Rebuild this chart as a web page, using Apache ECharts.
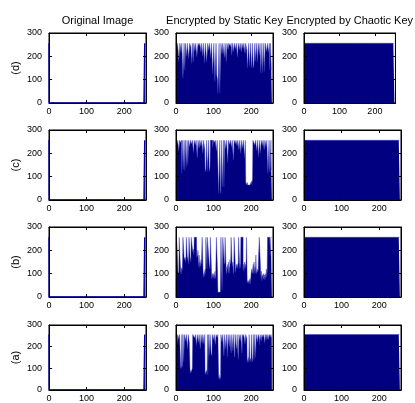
<!DOCTYPE html>
<html><head><meta charset="utf-8">
<script src="https://cdn.jsdelivr.net/npm/echarts@6/dist/echarts.min.js"></script>
<style>html,body{margin:0;padding:0;background:#fff}#c{width:415px;height:403px}</style>
</head><body><div id="c"></div>
<script>
const columnTitles = ['Original Image', 'Encrypted by Static Key', 'Encrypted by Chaotic Key'];
const rowLabels = ['(d)', '(c)', '(b)', '(a)'];
const xTicks = [0, 100, 200];
const yTicks = [0, 100, 200, 300];

// histogram of the original image (bins 0..255)
const origHist = [
256,0,0,0,0,0,0,0,0,0,0,0,0,0,0,0,
0,0,0,0,0,0,0,0,0,0,0,0,0,0,0,0,
0,0,0,0,0,0,0,0,0,0,0,0,0,0,0,0,
0,0,0,0,0,0,0,0,0,0,0,0,0,0,0,0,
0,0,0,0,0,0,0,0,0,0,0,0,0,0,0,0,
0,0,0,0,0,0,0,0,0,0,0,0,0,0,0,0,
0,0,0,0,0,0,0,0,0,0,0,0,0,0,0,0,
0,0,0,0,0,0,0,0,0,0,0,0,0,0,0,0,
0,0,0,0,0,0,0,0,0,0,0,0,0,0,0,0,
0,0,0,0,0,0,0,0,0,0,0,0,0,0,0,0,
0,0,0,0,0,0,0,0,0,0,0,0,0,0,0,0,
0,0,0,0,0,0,0,0,0,0,0,0,0,0,0,0,
0,0,0,0,0,0,0,0,0,0,0,0,0,0,0,0,
0,0,0,0,0,0,0,0,0,0,0,0,0,0,0,0,
0,0,0,0,0,0,0,0,0,0,0,0,0,0,0,0,
0,0,0,0,0,0,0,0,0,0,0,0,0,0,0,256
];

// histograms encrypted by static key
const staticD = [
256,256,256,230,228,256,256,256,178,180,176,256,256,256,215,212,
256,256,256,105,108,104,256,256,140,138,256,256,256,200,198,256,
256,256,190,192,188,256,256,256,240,236,170,172,256,256,175,172,
256,256,256,222,220,256,256,256,198,200,196,256,256,256,244,240,
256,256,256,218,215,256,256,256,200,202,256,256,170,168,163,256,
256,256,175,170,168,256,256,256,225,222,256,256,256,194,190,256,
256,256,125,122,130,256,256,256,90,95,92,256,256,120,118,98,
41,45,42,256,256,42,44,46,256,256,256,210,208,256,256,256,
256,195,192,256,256,256,177,180,256,256,256,228,226,256,256,256,
256,242,240,256,256,205,206,256,256,256,220,215,256,256,256,231,
232,256,256,256,196,198,256,256,256,227,230,256,256,256,219,216,
256,256,256,233,236,256,256,256,212,210,256,256,256,226,150,152,
149,150,256,256,155,160,152,256,256,165,150,152,256,256,160,150,
170,172,256,256,180,178,256,256,256,175,172,256,256,256,205,208,
256,256,127,130,128,256,256,130,128,132,256,256,135,129,256,256,
256,256,220,218,256,256,256,216,214,256,140,142,256,256,143,140
];
const staticC = [
256,256,256,238,236,256,256,256,210,212,256,256,256,246,244,256,
113,115,256,256,130,128,256,256,125,120,256,256,140,138,256,256,
150,148,256,256,256,228,226,256,256,256,240,238,256,256,256,203,
205,256,256,256,236,234,256,256,256,180,182,256,256,256,222,220,
256,256,256,230,228,256,256,256,199,196,256,256,256,216,120,122,
135,130,256,256,122,128,125,256,256,121,124,140,256,256,256,256,
256,256,225,222,256,256,256,247,244,256,256,256,210,208,256,256,
256,256,27,30,28,256,256,40,28,30,256,256,55,60,58,256,
56,60,256,256,256,220,218,256,256,256,160,162,256,256,256,238,
236,256,256,256,226,224,256,256,256,170,168,256,256,256,241,240,
256,256,256,232,230,256,256,256,214,212,256,256,256,198,196,256,
256,256,222,220,256,256,256,180,182,256,80,65,70,63,75,64,
66,68,63,70,66,64,72,65,70,80,66,68,90,256,256,256,
256,256,236,234,256,256,256,211,213,256,256,256,184,186,256,256,
256,200,202,256,256,256,234,232,256,256,256,215,213,256,256,256,
227,225,256,256,256,113,115,120,256,256,118,140,138,256,130,132
];
const staticB = [
256,256,256,230,232,150,99,105,110,256,256,256,140,112,99,125,
130,115,160,256,256,256,170,160,163,170,150,165,256,256,256,160,
170,163,140,256,256,256,170,170,150,256,256,256,210,205,190,205,
180,256,256,256,256,256,256,256,170,175,180,200,150,130,180,125,
150,140,130,160,140,135,256,256,256,84,100,90,110,88,120,100,
256,256,256,120,256,256,256,256,256,140,130,120,256,256,256,110,
77,90,100,80,100,82,95,78,110,79,90,85,256,256,256,110,
20,22,25,25,22,21,21,24,256,256,256,28,24,256,256,256,
256,140,150,256,256,256,110,100,130,120,140,105,150,100,130,103,
160,140,150,256,256,256,130,140,150,100,110,256,256,256,150,105,
120,140,125,140,122,130,150,256,256,256,121,140,125,256,256,256,
256,256,256,120,140,110,130,150,120,140,130,160,256,256,60,56,
70,58,70,57,75,62,80,56,99,105,120,100,110,110,140,99,
150,103,120,130,100,180,115,100,110,120,105,115,170,175,256,256,
256,256,99,80,110,70,90,90,85,100,75,80,95,72,100,80,
99,120,85,110,256,256,256,256,256,256,256,177,180,256,256,256
];
const staticA = [
256,256,256,212,210,256,256,256,234,236,256,256,256,99,110,100,
256,120,105,256,256,130,128,256,256,256,227,224,256,256,256,190,
192,256,256,256,218,216,77,90,80,80,85,78,100,256,256,256,
256,256,240,238,256,256,256,206,208,256,256,256,220,222,256,256,
256,190,192,256,256,256,215,212,256,256,256,210,208,256,70,80,
72,75,90,72,256,71,74,256,256,160,156,256,256,256,170,168,
158,256,256,256,232,230,256,256,256,210,212,256,256,256,242,240,
256,256,52,70,49,55,60,50,256,256,256,220,222,256,256,256,
156,160,256,256,256,190,188,256,256,150,152,256,256,256,200,202,
256,256,256,170,172,256,256,256,180,182,256,256,160,150,256,256,
256,190,200,256,256,256,140,142,256,256,256,226,224,256,256,256,
170,256,256,246,244,256,256,256,213,210,256,256,256,236,127,140,
130,150,127,256,256,135,130,145,128,256,256,150,140,130,256,256,
140,135,256,256,150,152,256,256,256,221,220,256,256,256,239,208,
256,256,256,226,228,256,256,256,244,240,256,256,216,218,256,256,
230,256,256,235,240,256,256,232,230,256,256,245,244,256,256,235
];

// histogram encrypted by chaotic key (uniform)
const chaoticHist = [
256,256,256,256,256,256,256,256,256,256,256,256,256,256,256,256,
256,256,256,256,256,256,256,256,256,256,256,256,256,256,256,256,
256,256,256,256,256,256,256,256,256,256,256,256,256,256,256,256,
256,256,256,256,256,256,256,256,256,256,256,256,256,256,256,256,
256,256,256,256,256,256,256,256,256,256,256,256,256,256,256,256,
256,256,256,256,256,256,256,256,256,256,256,256,256,256,256,256,
256,256,256,256,256,256,256,256,256,256,256,256,256,256,256,256,
256,256,256,256,256,256,256,256,256,256,256,256,256,256,256,256,
256,256,256,256,256,256,256,256,256,256,256,256,256,256,256,256,
256,256,256,256,256,256,256,256,256,256,256,256,256,256,256,256,
256,256,256,256,256,256,256,256,256,256,256,256,256,256,256,256,
256,256,256,256,256,256,256,256,256,256,256,256,256,256,256,256,
256,256,256,256,256,256,256,256,256,256,256,256,256,256,256,256,
256,256,256,256,256,256,256,256,256,256,256,256,256,256,256,256,
256,256,256,256,256,256,256,256,256,256,256,256,256,256,256,256,
256,256,256,256,256,256,256,256,256,256,256,256,256,256,256,256
];

const panelData = [
  [origHist, staticD, chaoticHist],
  [origHist, staticC, chaoticHist],
  [origHist, staticB, chaoticHist],
  [origHist, staticA, chaoticHist]
];

const FONT = '"Liberation Sans", Arial, Helvetica, sans-serif';
const colLeft = [49, 176, 304];
const rowTop = [33, 130, 227, 325];
const plotW = 97, plotH = 70;
const X_MAX = 258, Y_MAX = 300;

const grid = [], xAxis = [], yAxis = [], series = [];
const lbl = {color: '#000', fontSize: 9, fontFamily: FONT};
let g = 0;
for (let r = 0; r < 4; r++) {
  for (let c = 0; c < 3; c++) {
    grid.push({left: colLeft[c], top: rowTop[r], width: plotW, height: plotH,
      show: true, borderColor: '#000', borderWidth: 1, backgroundColor: '#fff'});
    const axLine = {show: true, onZero: false, lineStyle: {color: '#000', width: 1}};
    xAxis.push({gridIndex: g, type: 'value', min: 0, max: X_MAX, position: 'bottom', z: 5,
      axisLine: axLine, splitLine: {show: false},
      axisTick: {show: true, inside: true, length: 3, customValues: xTicks, lineStyle: {color: '#000'}},
      axisLabel: Object.assign({customValues: xTicks, margin: 4}, lbl)});
    xAxis.push(Object.assign({gridIndex: g, type: 'value', min: 0, max: X_MAX, position: 'top', z: 5,
      axisLine: axLine, splitLine: {show: false},
      axisTick: {show: true, inside: true, length: 3, customValues: xTicks, lineStyle: {color: '#000'}},
      axisLabel: {show: false}},
      r === 0 ? {name: columnTitles[c], nameLocation: 'middle', nameGap: 7,
        nameTextStyle: {color: '#000', fontSize: 11, fontFamily: FONT}} : {}));
    yAxis.push(Object.assign({gridIndex: g, type: 'value', min: 0, max: Y_MAX, position: 'left', z: 5,
      axisLine: axLine, splitLine: {show: false},
      axisTick: {show: true, inside: true, length: 3, customValues: yTicks, lineStyle: {color: '#000'}},
      axisLabel: Object.assign({customValues: yTicks, margin: 7}, lbl)},
      c === 0 ? {name: rowLabels[r], nameLocation: 'middle', nameGap: 28, nameRotate: 90,
        nameTextStyle: {color: '#000', fontSize: 11, fontFamily: FONT}} : {}));
    yAxis.push({gridIndex: g, type: 'value', min: 0, max: Y_MAX, position: 'right', z: 5,
      axisLine: axLine, splitLine: {show: false},
      axisTick: {show: true, inside: true, length: 3, customValues: yTicks, lineStyle: {color: '#000'}},
      axisLabel: {show: false}});
    const hist = panelData[r][c];
    const edge = c === 0 ? {color: '#0000b4', width: 1.3} : {color: '#3030b8', width: 0.4};
    series.push({type: 'line', xAxisIndex: 2 * g, yAxisIndex: 2 * g, step: 'middle',
      data: hist.map((v, i) => [i, v]), showSymbol: false, symbol: 'none', silent: true,
      lineStyle: edge, areaStyle: {color: '#000080', opacity: 1},
      animation: false, clip: true});
    g++;
  }
}

const chart = echarts.init(document.getElementById('c'), null, {renderer: 'canvas'});
chart.setOption({animation: false, backgroundColor: '#fff', grid, xAxis, yAxis, series});
</script>
</body></html>
